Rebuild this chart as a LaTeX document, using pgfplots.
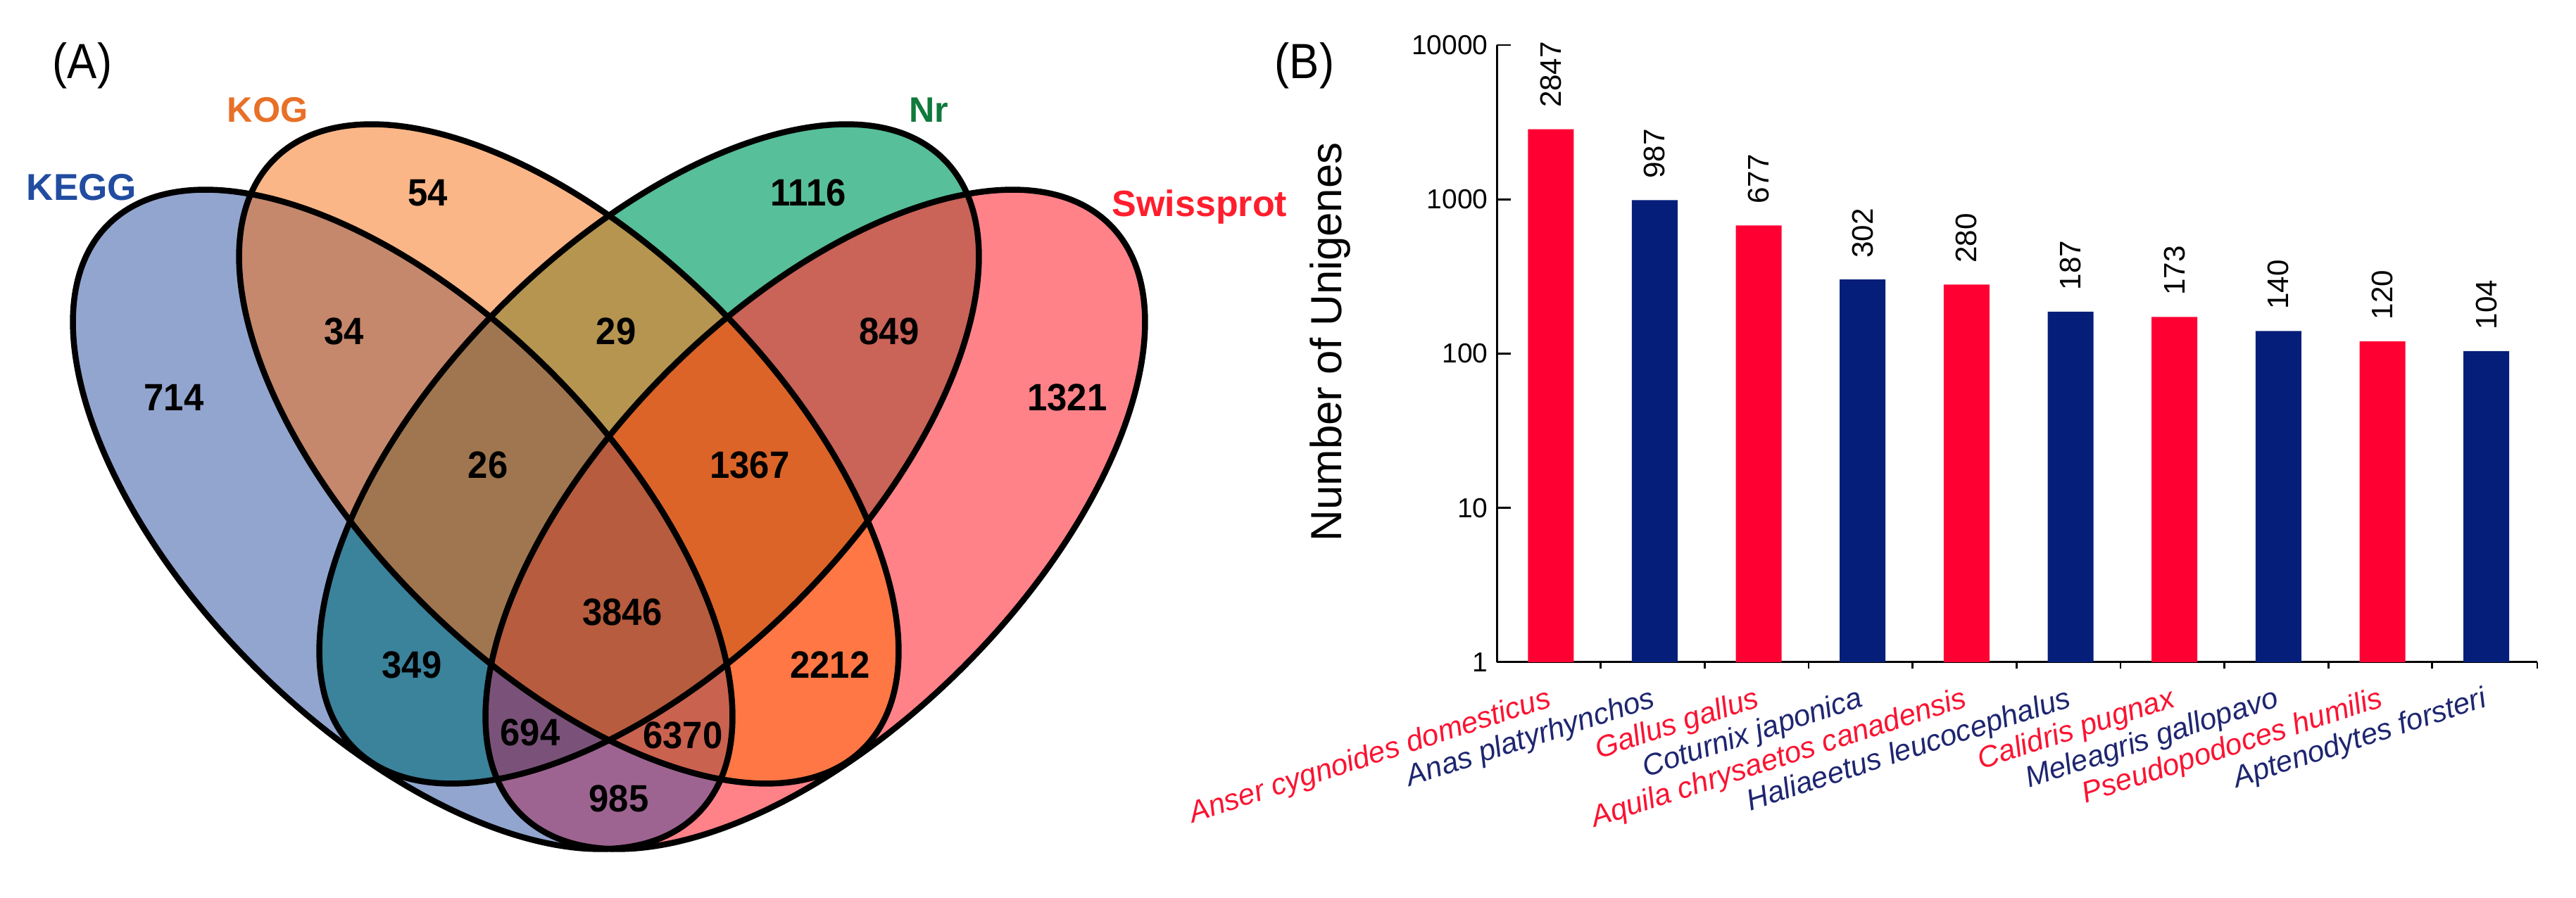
\documentclass[border=0pt]{standalone}
\usepackage{fontspec}
\setmainfont{Liberation Sans}
\newfontfamily\condfont{Liberation Sans}[FakeStretch=0.94]
\newfontfamily\parfont{Liberation Sans}[FakeStretch=0.9]
\usepackage{pgfplots}
\pgfplotsset{compat=1.18}

\definecolor{cA}{RGB}{146,165,207}
\definecolor{cB}{RGB}{250,182,135}
\definecolor{cC}{RGB}{87,191,153}
\definecolor{cD}{RGB}{255,130,137}
\definecolor{cAB}{RGB}{197,136,108}
\definecolor{cBC}{RGB}{182,149,80}
\definecolor{cCD}{RGB}{202,99,88}
\definecolor{cAD}{RGB}{158,100,145}
\definecolor{cAC}{RGB}{59,130,155}
\definecolor{cBD}{RGB}{255,119,68}
\definecolor{cABC}{RGB}{160,118,80}
\definecolor{cBCD}{RGB}{220,100,40}
\definecolor{cACD}{RGB}{122,82,121}
\definecolor{cABD}{RGB}{202,98,80}
\definecolor{cABCD}{RGB}{183,92,62}
\definecolor{tKEGG}{RGB}{33,76,160}
\definecolor{tKOG}{RGB}{232,112,40}
\definecolor{tNr}{RGB}{16,122,60}
\definecolor{tSw}{RGB}{255,30,45}
\definecolor{bRed}{RGB}{255,0,51}
\definecolor{bNavy}{RGB}{5,30,122}
\definecolor{lRed}{RGB}{250,20,50}
\definecolor{lNavy}{RGB}{30,38,112}

% ellipses of the Venn diagram (axis units = reference pixels, y upwards)
\newcommand\EllA[2]{#1[#2,rotate around={-45:(axis cs:572,538)}] (axis cs:572,538) ellipse [x radius=59.2mm, y radius=29.7mm];}
\newcommand\EllB[2]{#1[#2,rotate around={-45:(axis cs:808,631)}] (axis cs:808,631) ellipse [x radius=59.2mm, y radius=29.7mm];}
\newcommand\EllC[2]{#1[#2,rotate around={45:(axis cs:922,631)}] (axis cs:922,631) ellipse [x radius=59.2mm, y radius=29.7mm];}
\newcommand\EllD[2]{#1[#2,rotate around={45:(axis cs:1158,538)}] (axis cs:1158,538) ellipse [x radius=59.2mm, y radius=29.7mm];}

\pgfplotstableread{
x y l
608 1002 54
1148 1002 1116
489 805 34
875 805 29
1263 805 849
247 711 714
1516 711 1321
693 615 26
1065 615 1367
884 406 3846
585 331 349
1179 331 2212
753 235 694
970 231 6370
879 141 985
}\venndata

\pgfplotstableread{
x y
0 2847
2 677
4 280
6 173
8 120
}\redbars
\pgfplotstableread{
x y
1 987
3 302
5 187
7 140
9 104
}\navybars

\begin{document}
\begin{tikzpicture}
\path[use as bounding box] (0,0) rectangle (365.9mm,127.6mm);

% ---------------- (A) Venn diagram ----------------
\begin{axis}[
  at={(0,0)}, anchor=south west,
  scale only axis, width=180mm, height=127.6mm,
  xmin=0, xmax=1800, ymin=0, ymax=1276,
  enlargelimits=false, hide axis, clip=false,
]
\pgfplotsextra{
  % single sets
  \EllA{\fill}{cA}
  \EllB{\fill}{cB}
  \EllC{\fill}{cC}
  \EllD{\fill}{cD}
  % pairs
  \begin{scope}\EllA{\clip}{}\EllB{\fill}{cAB}\end{scope}
  \begin{scope}\EllB{\clip}{}\EllC{\fill}{cBC}\end{scope}
  \begin{scope}\EllC{\clip}{}\EllD{\fill}{cCD}\end{scope}
  \begin{scope}\EllA{\clip}{}\EllD{\fill}{cAD}\end{scope}
  \begin{scope}\EllA{\clip}{}\EllC{\fill}{cAC}\end{scope}
  \begin{scope}\EllB{\clip}{}\EllD{\fill}{cBD}\end{scope}
  % triples
  \begin{scope}\EllA{\clip}{}\EllB{\clip}{}\EllC{\fill}{cABC}\end{scope}
  \begin{scope}\EllB{\clip}{}\EllC{\clip}{}\EllD{\fill}{cBCD}\end{scope}
  \begin{scope}\EllA{\clip}{}\EllC{\clip}{}\EllD{\fill}{cACD}\end{scope}
  \begin{scope}\EllA{\clip}{}\EllB{\clip}{}\EllD{\fill}{cABD}\end{scope}
  % all four
  \begin{scope}\EllA{\clip}{}\EllB{\clip}{}\EllC{\clip}{}\EllD{\fill}{cABCD}\end{scope}
  % outlines
  \EllA{\draw}{black,line width=0.85mm}
  \EllB{\draw}{black,line width=0.85mm}
  \EllC{\draw}{black,line width=0.85mm}
  \EllD{\draw}{black,line width=0.85mm}
  % set names and panel letters
  \node[font=\parfont\fontsize{20}{24}\selectfont] at (axis cs:117,1183) {(A)};
  \node[font=\parfont\fontsize{20}{24}\selectfont] at (axis cs:1853,1183) {(B)};
  \node[font=\bfseries\fontsize{15.1}{18}\selectfont, text=tKEGG] at (axis cs:116,1010) {KEGG};
  \node[font=\bfseries\fontsize{14.3}{17}\selectfont, text=tKOG] at (axis cs:380,1120) {KOG};
  \node[font=\bfseries\fontsize{14.3}{17}\selectfont, text=tNr] at (axis cs:1319,1120) {Nr};
  \node[font=\bfseries\fontsize{14.8}{17}\selectfont, text=tSw, anchor=west, inner sep=0pt] at (axis cs:1579,982) {Swissprot};
}
\addplot[draw=none, mark=none, nodes near coords, point meta=explicit symbolic,
  every node near coord/.style={anchor=center, inner sep=0pt, text=black,
    font=\condfont\bfseries\fontsize{15.4}{18}\selectfont}]
  table[x=x, y=y, meta=l] {\venndata};
\end{axis}

% ---------------- (B) bar chart ----------------
\begin{axis}[
  at={(212.6mm,33.5mm)}, anchor=south west,
  scale only axis, width=147.8mm, height=87.7mm,
  ymode=log, log basis y=10, ymin=1, ymax=10000,
  xmin=-0.52, xmax=9.49,
  axis x line*=bottom, axis y line*=left,
  axis line style={line width=0.3mm, black},
  tick align=inside,
  major tick length=2mm, minor tick length=0.9mm,
  tick style={line width=0.28mm, black},
  ytick={1,10,100,1000,10000},
  yticklabels={1,10,100,1000,10000},
  y tick label style={font=\fontsize{11.1}{13}\selectfont},
  xtick={0,1,2,3,4,5,6,7,8,9},
  major x tick style={draw=none},
  minor xtick={0.48,1.48,2.48,3.48,4.48,5.48,6.48,7.48,8.48,9.49},
  xticklabels={
    {\textcolor{lRed}{Anser cygnoides domesticus}},
    {\textcolor{lNavy}{Anas platyrhynchos}},
    {\textcolor{lRed}{Gallus gallus}},
    {\textcolor{lNavy}{Coturnix japonica}},
    {\textcolor{lRed}{Aquila chrysaetos canadensis}},
    {\textcolor{lNavy}{Haliaeetus leucocephalus}},
    {\textcolor{lRed}{Calidris pugnax}},
    {\textcolor{lNavy}{Meleagris gallopavo}},
    {\textcolor{lRed}{Pseudopodoces humilis}},
    {\textcolor{lNavy}{Aptenodytes forsteri}}},
  x tick label style={rotate=18, anchor=north east, inner sep=1mm,
    font=\itshape\fontsize{12}{14}\selectfont},
  /pgf/number format/assume math mode=true,
  ylabel={Number of Unigenes},
  every axis y label/.style={at={(rel axis cs:-0.16,0.519)}, rotate=90, anchor=center,
    font=\fontsize{17.6}{20}\selectfont},
  clip=false,
  ybar, bar width=6.5mm,
  nodes near coords, point meta=explicit symbolic,
  every node near coord/.append style={rotate=90, anchor=west, inner xsep=3mm, inner ysep=0pt,
    text=black, font=\fontsize{12}{14}\selectfont},
]
\addplot[fill=bRed, draw=none, bar shift=0pt] table[x=x, y=y, meta=y] {\redbars};
\addplot[fill=bNavy, draw=none, bar shift=0pt] table[x=x, y=y, meta=y] {\navybars};
\end{axis}
\end{tikzpicture}
\end{document}
